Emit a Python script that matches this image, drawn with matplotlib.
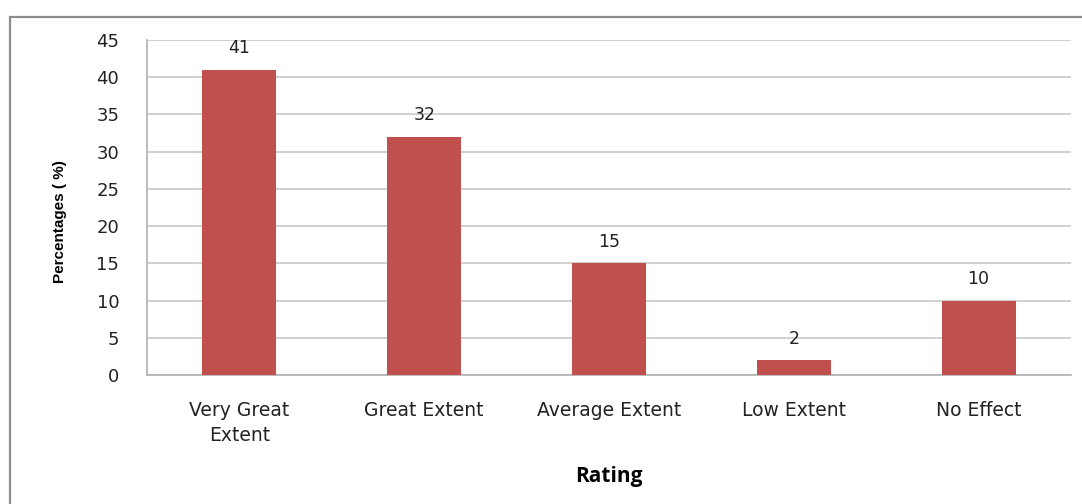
import matplotlib
matplotlib.use("Agg")
import matplotlib.pyplot as plt
from matplotlib.patches import Rectangle

categories = ["Very Great\nExtent", "Great Extent", "Average Extent", "Low Extent", "No Effect"]
percentages = [41, 32, 15, 2, 10]
y_ticks = [0, 5, 10, 15, 20, 25, 30, 35, 40, 45]

plt.rcParams["font.family"] = ["DejaVu Sans"]

fig = plt.figure(figsize=(10.82, 5.04), dpi=100)
ax = fig.add_axes([147 / 1082, 129 / 504, 924 / 1082, 335 / 504])

# outer frame, runs off the right and bottom edges like the source image
fig.patches.append(Rectangle((9.5 / 1082, -0.1), 1.2, (504 - 16.5) / 504 + 0.1,
                             transform=fig.transFigure, fill=False,
                             edgecolor="#8c8c8c", linewidth=1.6))

x = range(len(categories))
bars = ax.bar(x, percentages, width=0.4, color="#C0504D", zorder=3)
for rect, val in zip(bars, percentages):
    ax.annotate(str(val), (rect.get_x() + rect.get_width() / 2, val),
                xytext=(0, 9), textcoords="offset points",
                ha="center", va="bottom", fontsize=12.5, color="#222222")

ax.set_xlim(-0.5, len(categories) - 0.5)
ax.set_ylim(0, 45)
ax.set_yticks(y_ticks)
ax.set_xticks(list(x))
ax.set_xticklabels(categories, fontsize=13.5, color="#222222", linespacing=1.4)
ax.tick_params(axis="y", labelsize=13, labelcolor="#222222", length=0, pad=20)
ax.tick_params(axis="x", length=0, pad=19)
ax.yaxis.grid(True, color="#c8c8c8", linewidth=1.2, zorder=0)
ax.set_axisbelow(True)

for side in ["top", "right"]:
    ax.spines[side].set_visible(False)
for side in ["left", "bottom"]:
    ax.spines[side].set_color("#b0b0b0")
    ax.spines[side].set_linewidth(1.2)

ax.set_ylabel("Percentages ( %)", fontsize=11, fontweight="bold",
              family=["Liberation Sans", "DejaVu Sans"])
ax.yaxis.set_label_coords(-0.0866, 0.457)
ax.set_xlabel("Rating", fontsize=15, fontweight="bold",
              family=["Open Sans", "DejaVu Sans"])
ax.xaxis.set_label_coords(0.5, -0.272)

fig.savefig("out.png", dpi=100)
